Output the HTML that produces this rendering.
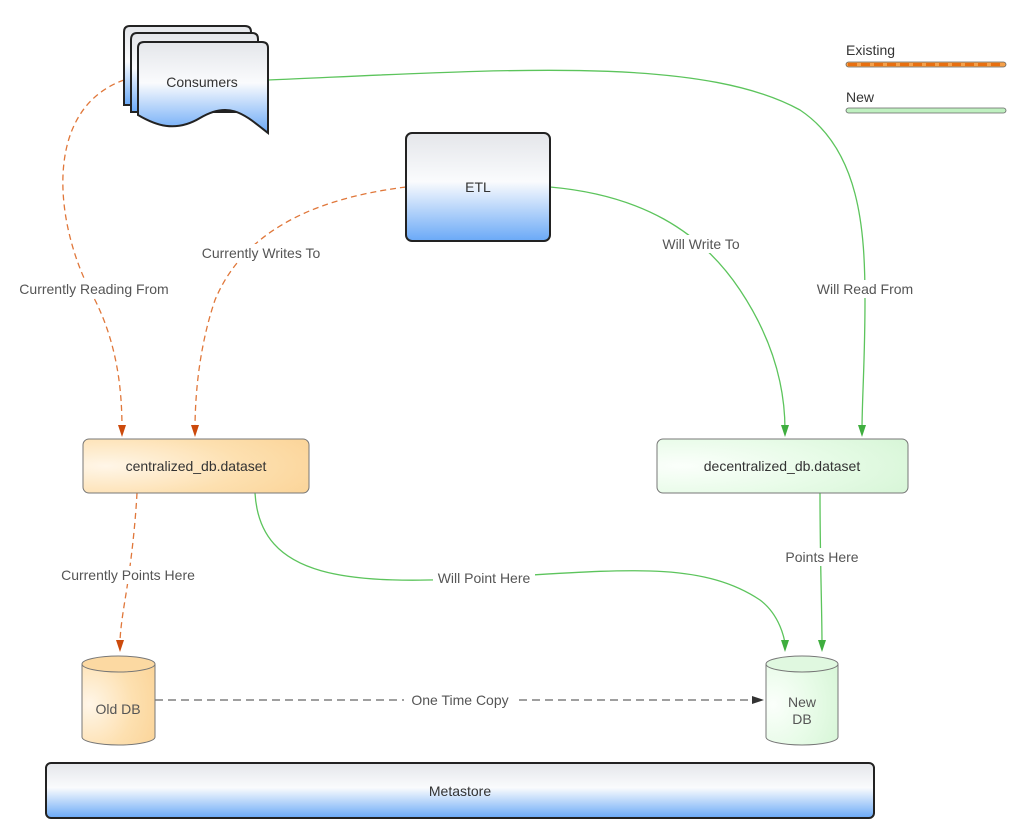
<!DOCTYPE html>
<html><head><meta charset="utf-8"><style>
html,body{margin:0;padding:0;background:#fff;}
svg{display:block;font-family:"Liberation Sans",sans-serif;}
.lbl{font-size:14px;fill:#555;text-anchor:middle;}
</style></head><body>
<svg width="1024" height="832" viewBox="0 0 1024 832" xmlns="http://www.w3.org/2000/svg">
<defs>
<linearGradient id="gb" x1="0" y1="0" x2="0" y2="1">
<stop offset="0" stop-color="#e4e6ea"/><stop offset="0.45" stop-color="#fafbfd"/><stop offset="1" stop-color="#6aa9f7"/></linearGradient>
<radialGradient id="go" cx="0.1" cy="0.5" r="1"><stop offset="0" stop-color="#fff6e8"/><stop offset="0.6" stop-color="#fde0b0"/><stop offset="1" stop-color="#fbd59a"/></radialGradient>
<radialGradient id="gg" cx="0.1" cy="0.5" r="1"><stop offset="0" stop-color="#fbfffb"/><stop offset="0.6" stop-color="#e6fbe6"/><stop offset="1" stop-color="#d8f6d8"/></radialGradient>
<marker id="ao" markerWidth="10" markerHeight="10" refX="5" refY="9" orient="auto" markerUnits="userSpaceOnUse" viewBox="0 0 10 10"><path d="M1,0 L9,0 L5,10 z" fill="#cc4a0c" transform="rotate(-90 5 5)"/></marker>
</defs>

<!-- legend -->
<text x="846" y="55" font-size="14" fill="#333">Existing</text>
<rect x="846" y="62" width="160" height="5" rx="2.5" fill="#f5a04a" stroke="#666" stroke-width="0.8"/>
<line x1="848" y1="64.5" x2="1004" y2="64.5" stroke="#e86f10" stroke-width="3" stroke-dasharray="9,4"/>
<text x="846" y="102" font-size="14" fill="#333">New</text>
<rect x="846" y="108" width="160" height="5" rx="2.5" fill="#bff0c0" stroke="#666" stroke-width="0.8"/>

<!-- edges -->
<g fill="none" stroke-width="1.3">
<path d="M124,80 C40,110 55,230 95,300 C120,350 122,400 122,430" stroke="#e0773a" stroke-dasharray="6,4"/>
<path d="M406,187 C300,200 240,240 215,300 C198,350 195,400 195,430" stroke="#e0773a" stroke-dasharray="6,4"/>
<path d="M550,187 C640,195 700,230 740,290 C780,350 785,400 785,430" stroke="#5cc45c"/>
<path d="M268,80 C500,70 700,55 800,110 C860,150 865,230 865,300 C865,360 862,400 862,430" stroke="#5cc45c"/>
<path d="M137,493 C135,530 130,570 125,600 C120,630 120,640 120,645" stroke="#e0773a" stroke-dasharray="6,4"/>
<path d="M255,493 C260,580 350,585 484,578 C620,570 700,560 760,600 C780,615 785,640 785,645" stroke="#5cc45c"/>
<path d="M820,493 C820,560 822,610 822,645" stroke="#5cc45c"/>
<path d="M155,700 L755,700" stroke="#666" stroke-dasharray="8,5"/>
</g>
<g>
<path d="M118,425 L126,425 L122,437 z" fill="#cc4a0c"/>
<path d="M191,425 L199,425 L195,437 z" fill="#cc4a0c"/>
<path d="M116,640 L124,640 L120,652 z" fill="#cc4a0c"/>
<path d="M781,425 L789,425 L785,437 z" fill="#3fae3f"/>
<path d="M858,425 L866,425 L862,437 z" fill="#3fae3f"/>
<path d="M781,640 L789,640 L785,652 z" fill="#3fae3f"/>
<path d="M818,640 L826,640 L822,652 z" fill="#3fae3f"/>
<path d="M752,696 L764,700 L752,704 z" fill="#333"/>
</g>
<!-- labels -->
<g class="lbl">
<rect x="14" y="280" width="160" height="18" fill="#fff"/><text x="94" y="294">Currently Reading From</text>
<rect x="196" y="244" width="130" height="18" fill="#fff"/><text x="261" y="258">Currently Writes To</text>
<rect x="656" y="235" width="90" height="18" fill="#fff"/><text x="701" y="249">Will Write To</text>
<rect x="814" y="280" width="102" height="18" fill="#fff"/><text x="865" y="294">Will Read From</text>
<rect x="55" y="566" width="146" height="18" fill="#fff"/><text x="128" y="580">Currently Points Here</text>
<rect x="433" y="569" width="102" height="18" fill="#fff"/><text x="484" y="583">Will Point Here</text>
<rect x="782" y="548" width="80" height="18" fill="#fff"/><text x="822" y="562">Points Here</text>
<rect x="404" y="691" width="112" height="18" fill="#fff"/><text x="460" y="705">One Time Copy</text>
</g>

<!-- consumers -->
<g stroke="#222" stroke-width="2" fill="url(#gb)">
<path d="M124,32 Q124,26 130,26 L245,26 Q251,26 251,32 L251,105 L124,105 z"/>
<path d="M131,40 Q131,33 137,33 L252,33 Q258,33 258,39 L258,112 L131,112 z"/>
<path d="M138,48 Q138,42 144,42 L262,42 Q268,42 268,48 L268,133 C245,115 230,100 200,118 C175,133 155,125 138,115 z"/>
</g>
<text x="202" y="87" font-size="14" fill="#333" text-anchor="middle">Consumers</text>

<!-- ETL -->
<rect x="406" y="133" width="144" height="108" rx="6" fill="url(#gb)" stroke="#222" stroke-width="2"/>
<text x="478" y="192" font-size="14" fill="#333" text-anchor="middle">ETL</text>

<!-- datasets -->
<rect x="83" y="439" width="226" height="54" rx="6" fill="url(#go)" stroke="#777" stroke-width="1"/>
<text x="196" y="471" font-size="14" fill="#333" text-anchor="middle">centralized_db.dataset</text>
<rect x="657" y="439" width="251" height="54" rx="6" fill="url(#gg)" stroke="#777" stroke-width="1"/>
<text x="782" y="471" font-size="14" fill="#333" text-anchor="middle">decentralized_db.dataset</text>

<!-- cylinders -->
<path d="M82,664 L82,737 A36.5,8 0 0 0 155,737 L155,664" fill="url(#go)" stroke="#777"/>
<ellipse cx="118.5" cy="664" rx="36.5" ry="8" fill="#fcd9a2" stroke="#777"/>
<text x="118" y="714" font-size="14" fill="#555" text-anchor="middle">Old DB</text>
<path d="M766,664 L766,737 A36,8 0 0 0 838,737 L838,664" fill="url(#gg)" stroke="#777"/>
<ellipse cx="802" cy="664" rx="36" ry="8" fill="#e0f8e0" stroke="#777"/>
<text x="802" y="707" font-size="14" fill="#555" text-anchor="middle">New</text>
<text x="802" y="724" font-size="14" fill="#555" text-anchor="middle">DB</text>

<!-- metastore -->
<rect x="46" y="763" width="828" height="55" rx="5" fill="url(#gb)" stroke="#222" stroke-width="2"/>
<text x="460" y="796" font-size="14" fill="#333" text-anchor="middle">Metastore</text>
</svg>
</body></html>
